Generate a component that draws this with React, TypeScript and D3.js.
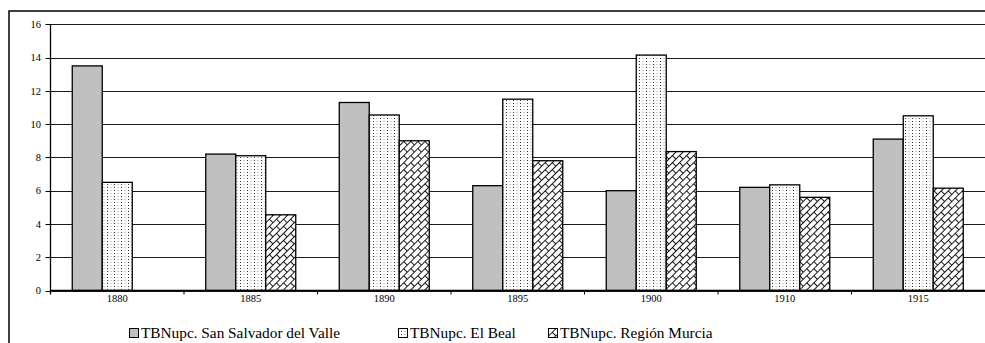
import React from "react";
import * as d3 from "d3";

const categories = ["1880", "1885", "1890", "1895", "1900", "1910", "1915"];
const seriesNames = [
  "TBNupc. San Salvador del Valle",
  "TBNupc. El Beal",
  "TBNupc. Región Murcia",
];
const sanSalvador = [13.5, 8.2, 11.3, 6.3, 6.0, 6.2, 9.1];
const elBeal = [6.5, 8.1, 10.55, 11.5, 14.15, 6.35, 10.5];
const murcia: (number | null)[] = [null, 4.55, 9.0, 7.8, 8.35, 5.6, 6.15];
const yTicks = [0, 2, 4, 6, 8, 10, 12, 14, 16];

const W = 985;
const H = 343;
const plotLeft = 50.5;
const plotRight = 985;
const plotTop = 24.3;
const plotBottom = 290.5;
const fills = ["#c0c0c0", "url(#dots)", "url(#brick)"];
const font = "'Liberation Serif', 'Times New Roman', serif";

export default function App() {
  const x = d3.scaleBand().domain(categories).range([plotLeft, plotRight]).paddingInner(0).paddingOuter(0);
  const y = d3.scaleLinear().domain([0, 16]).range([plotBottom, plotTop]);
  const bw = 30;
  const series = [sanSalvador, elBeal, murcia];
  const legendX = [129, 398, 548];

  return (
    <svg width={W} height={H} style={{ position: "absolute", left: 0, top: 0, background: "#fff", fontFamily: font }}>
      <defs>
        <pattern id="dots" width={7} height={3} patternUnits="userSpaceOnUse">
          <rect width={7} height={3} fill="#fff" />
          <rect x={2} y={1} width={1} height={1} fill="#333" />
          <rect x={5.5} y={1} width={1} height={1} fill="#999" />
        </pattern>
        <pattern id="brick" width={10} height={10} patternUnits="userSpaceOnUse" patternTransform="rotate(-45)">
          <rect width={10} height={10} fill="#fff" />
          <path d="M0,0.5H10M0,5.5H10M0.5,0.5V5.5M5.5,5.5V10.5" stroke="#000" strokeWidth={0.9} fill="none" />
        </pattern>
      </defs>
      <rect x={9} y={11} width={W + 20} height={H + 20} fill="none" stroke="#000" strokeWidth={1.5} />
      {yTicks.map((t) => (
        <g key={t}>
          <line x1={plotLeft} x2={plotRight} y1={Math.round(y(t)) + 0.5} y2={Math.round(y(t)) + 0.5} stroke="#1a1a1a" strokeWidth={1} />
          <line x1={plotLeft - 5} x2={plotLeft} y1={Math.round(y(t)) + 0.5} y2={Math.round(y(t)) + 0.5} stroke="#000" />
          <text x={41} y={y(t)} dy="0.35em" textAnchor="end" style={{ fontSize: 10.5, fontFamily: font }}>
            {t}
          </text>
        </g>
      ))}
      {categories.map((c, i) => (
        <g key={c}>
          {series.map((s, k) => {
            const v = s[i];
            if (v == null) return null;
            const cx = (x(c) as number) + x.bandwidth() / 2;
            const x0 = cx - (3 * bw) / 2 + k * bw;
            return (
              <rect
                key={k}
                x={x0}
                y={y(v)}
                width={bw}
                height={plotBottom - y(v)}
                fill={fills[k]}
                stroke="#000"
                strokeWidth={1.3}
              />
            );
          })}
          <text
            x={(x(c) as number) + x.bandwidth() / 2}
            y={302}
            textAnchor="middle"
            style={{ fontSize: 10.5, fontFamily: font }}
          >
            {c}
          </text>
          {i > 0 && (
            <line x1={(x(c) as number)} x2={(x(c) as number)} y1={plotBottom} y2={plotBottom + 4} stroke="#000" />
          )}
        </g>
      ))}
      <line x1={plotLeft} x2={plotLeft} y1={plotTop} y2={plotBottom + 4} stroke="#000" strokeWidth={1.3} />
      <line x1={plotLeft} x2={plotRight} y1={plotBottom} y2={plotBottom} stroke="#000" strokeWidth={1.3} />
      {seriesNames.map((n, k) => (
        <g key={n}>
          <rect x={legendX[k] + 0.5} y={328.5} width={9} height={9} fill={fills[k]} stroke="#000" strokeWidth={1} />
          <text x={legendX[k] + 12} y={338} style={{ fontSize: 15.3, fontFamily: font }}>
            {n}
          </text>
        </g>
      ))}
    </svg>
  );
}
